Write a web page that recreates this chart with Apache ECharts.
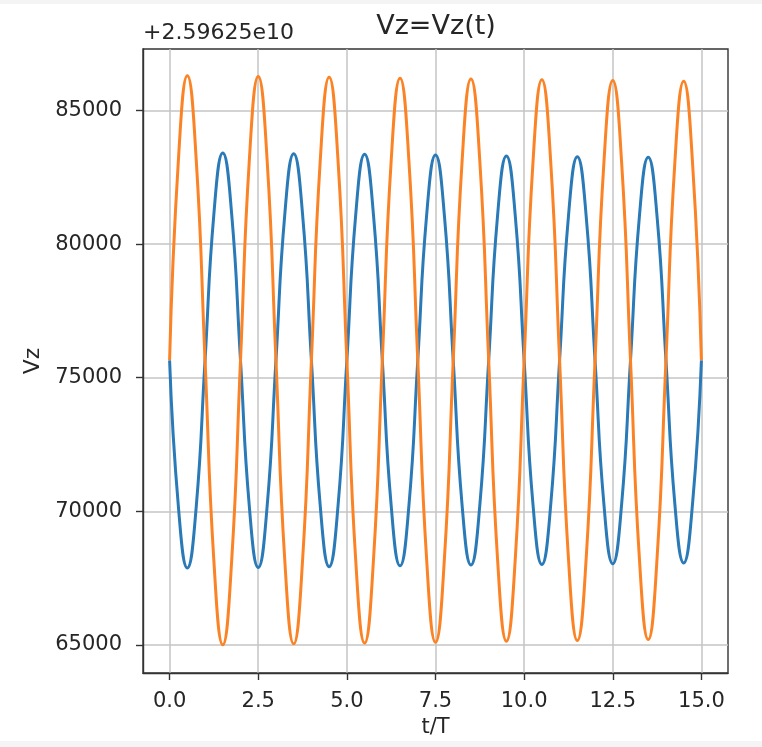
<!DOCTYPE html>
<html>
<head>
<meta charset="utf-8">
<script src="https://cdn.jsdelivr.net/npm/echarts@6/dist/echarts.min.js"></script>
<style>
  html, body { margin: 0; padding: 0; background: #fff; }
  #main { width: 762px; height: 747px; }
</style>
</head>
<body>
<div id="main"></div>
<script>
// t/T sample points
var tValues = [
  0, 0.25, 0.5, 0.75, 1, 1.25, 1.5, 1.75, 2, 2.25, 2.5, 2.75, 3, 3.25, 3.5, 3.75,
  4, 4.25, 4.5, 4.75, 5, 5.25, 5.5, 5.75, 6, 6.25, 6.5, 6.75, 7, 7.25, 7.5, 7.75,
  8, 8.25, 8.5, 8.75, 9, 9.25, 9.5, 9.75, 10, 10.25, 10.5, 10.75, 11, 11.25, 11.5, 11.75,
  12, 12.25, 12.5, 12.75, 13, 13.25, 13.5, 13.75, 14, 14.25, 14.5, 14.75, 15
]

// Vz - 2.59625e10, blue curve
var blueValues = [
  75650, 70150, 67880, 70150, 75650, 81140, 83410, 81140,
  75650, 70170, 67900, 70170, 75650, 81120, 83380, 81120,
  75650, 70190, 67930, 70190, 75650, 81100, 83360, 81100,
  75650, 70210, 67960, 70210, 75650, 81080, 83330, 81080,
  75650, 70230, 67990, 70230, 75650, 81060, 83300, 81060,
  75650, 70250, 68010, 70250, 75650, 81040, 83270, 81040,
  75650, 70270, 68040, 70270, 75650, 81020, 83250, 81020,
  75650, 70290, 68070, 70290, 75650
]

// Vz - 2.59625e10, orange curve
var orangeValues = [
  75650, 83180, 86300, 83180, 75650, 68130, 65010, 68130,
  75650, 83160, 86270, 83160, 75650, 68150, 65040, 68150,
  75650, 83140, 86240, 83140, 75650, 68170, 65070, 68170,
  75650, 83120, 86210, 83120, 75650, 68200, 65100, 68200,
  75650, 83100, 86180, 83100, 75650, 68220, 65140, 68220,
  75650, 83070, 86150, 83070, 75650, 68240, 65170, 68240,
  75650, 83050, 86120, 83050, 75650, 68260, 65200, 68260,
  75650, 83030, 86090, 83030, 75650
]

var xTicks = [0, 2.5, 5, 7.5, 10, 12.5, 15]
var yTicks = [65000, 70000, 75000, 80000, 85000]

function pairs (xs, ys) {
  var out = []
  for (let i = 0; i < xs.length; i++) {
    out.push([xs[i], ys[i]])
  }
  return out
}

var font = 'DejaVu Sans'
var textColor = '#262626'

var chart = echarts.init(document.getElementById('main'))
chart.setOption({
  animation: false,
  backgroundColor: '#fff',
  title: {
    text: 'Vz=Vz(t)',
    left: 431,
    textAlign: 'center',
    top: 8,
    textStyle: { fontFamily: font, fontSize: 27, fontWeight: 'normal', color: textColor }
  },
  graphic: [
    { type: 'rect', left: 0, top: 0, shape: { width: 762, height: 4 }, style: { fill: '#f4f4f4' } },
    { type: 'rect', left: 0, top: 741, shape: { width: 762, height: 6 }, style: { fill: '#f4f4f4' } },
    {
      type: 'text',
      left: 143,
      top: 22,
      style: { text: '+2.59625e10', font: '22px "DejaVu Sans"', fill: textColor }
    }
  ],
  grid: {
    left: 143,
    right: 34,
    top: 49,
    bottom: 74,
    show: true,
    borderColor: '#333',
    borderWidth: 1.4,
    backgroundColor: 'transparent'
  },
  xAxis: {
    type: 'value',
    min: -0.75,
    max: 15.75,
    name: 't/T',
    nameLocation: 'middle',
    nameGap: 31,
    nameTextStyle: { fontFamily: font, fontSize: 21, color: textColor },
    axisLine: { show: true, onZero: false, lineStyle: { color: '#333', width: 1.4 } },
    axisTick: { show: true, inside: false, length: 7, customValues: xTicks, lineStyle: { color: '#333', width: 1.4 } },
    axisLabel: {
      customValues: xTicks,
      margin: 18,
      fontFamily: font,
      fontSize: 21,
      color: textColor,
      formatter: function (v) { return v.toFixed(1) }
    },
    splitLine: { show: true, lineStyle: { color: '#c4c4c4', width: 1.5 } }
  },
  yAxis: {
    type: 'value',
    min: 63950,
    max: 87300,
    name: 'Vz',
    nameLocation: 'middle',
    nameGap: 98,
    nameTextStyle: { fontFamily: font, fontSize: 22, color: textColor },
    axisLine: { show: true, onZero: false, lineStyle: { color: '#333', width: 1.4 } },
    axisTick: { show: true, inside: false, length: 7, customValues: yTicks, lineStyle: { color: '#333', width: 1.4 } },
    axisLabel: {
      customValues: yTicks,
      margin: 21,
      fontFamily: font,
      fontSize: 21,
      color: textColor,
      formatter: function (v) { return String(v) }
    },
    splitLine: { show: true, lineStyle: { color: '#c4c4c4', width: 1.5 } }
  },
  series: [
    {
      type: 'line',
      data: pairs(tValues, blueValues),
      smooth: true,
      showSymbol: false,
      lineStyle: { color: '#2a7ab8', width: 3 },
      itemStyle: { color: '#2a7ab8' }
    },
    {
      type: 'line',
      data: pairs(tValues, orangeValues),
      smooth: true,
      showSymbol: false,
      lineStyle: { color: '#fb8325', width: 3 },
      itemStyle: { color: '#fb8325' }
    }
  ]
})
</script>
</body>
</html>
